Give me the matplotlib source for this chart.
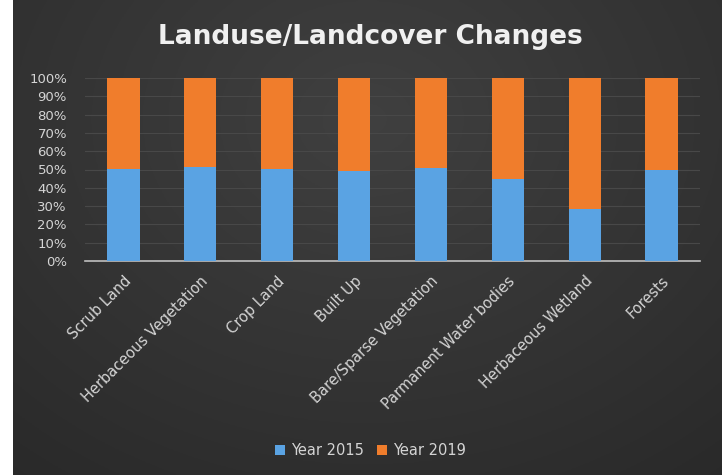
import numpy as np
import matplotlib
matplotlib.use("Agg")
import matplotlib.pyplot as plt
from matplotlib.ticker import PercentFormatter

plt.rcParams['font.family'] = ['DejaVu Sans']

categories = ["Scrub Land", "Herbaceous Vegetation", "Crop Land", "Built Up",
              "Bare/Sparse Vegetation", "Parmanent Water bodies",
              "Herbaceous Wetland", "Forests"]
year_2015 = [50.4, 51.3, 50.2, 49.2, 51.0, 44.6, 28.5, 49.8]
year_2019 = [100 - v for v in year_2015]

blue = "#5aa3e3"
orange = "#f07d2c"
txt = "#d4d4d4"

fig = plt.figure(figsize=(7.24, 4.75), dpi=100)
fig.patch.set_facecolor("white")

# dark background panel with soft radial gradient
bg = fig.add_axes([13 / 724, 0, 709 / 724, 1])
yy, xx = np.mgrid[0:1:200j, 0:1:300j]
r = np.sqrt(((xx - 0.5) * 1.2) ** 2 + (yy - 0.25) ** 2)
shade = 0.25 - 0.09 * np.clip(r, 0, 1)
bg.imshow(np.dstack([shade] * 3), aspect="auto", extent=[0, 1, 0, 1], origin="upper")
bg.axis("off")

ax = fig.add_axes([85 / 724, 1 - 261 / 475, 615 / 724, 183 / 475])
ax.set_facecolor("none")
x = np.arange(len(categories))
w = 0.42
b1 = ax.bar(x, year_2015, w, color=blue, label="Year 2015", zorder=3)
b2 = ax.bar(x, year_2019, w, bottom=year_2015, color=orange, label="Year 2019", zorder=3)

ax.set_xlim(-0.5, len(categories) - 0.5)
ax.set_ylim(0, 100)
ax.set_yticks(np.arange(0, 101, 10))
ax.yaxis.set_major_formatter(PercentFormatter(decimals=0))
ax.grid(axis="y", color="#484848", linewidth=0.8, zorder=0)
for s in ["top", "right", "left"]:
    ax.spines[s].set_visible(False)
ax.spines["bottom"].set_color("#bfbfbf")
ax.spines["bottom"].set_linewidth(1.2)
ax.tick_params(axis="both", length=0, colors=txt)
ax.tick_params(axis="y", pad=13, labelsize=9.5)
ax.set_xticks(x)
ax.set_xticklabels(categories, rotation=45, ha="right", rotation_mode="anchor",
                   fontsize=10.5, color=txt)
ax.tick_params(axis="x", pad=9)

fig.text(0.511, 0.922, "Landuse/Landcover Changes", ha="center", va="center",
         fontsize=19, fontweight="bold", color="#f0f0f0")

fig.legend(handles=[b1, b2], loc="center", bbox_to_anchor=(0.512, 0.052), ncol=2,
           frameon=False, fontsize=10.5, labelcolor=txt, handlelength=0.7,
           handleheight=0.7, handletextpad=0.4, columnspacing=0.9)

fig.savefig("out.png", dpi=100)
